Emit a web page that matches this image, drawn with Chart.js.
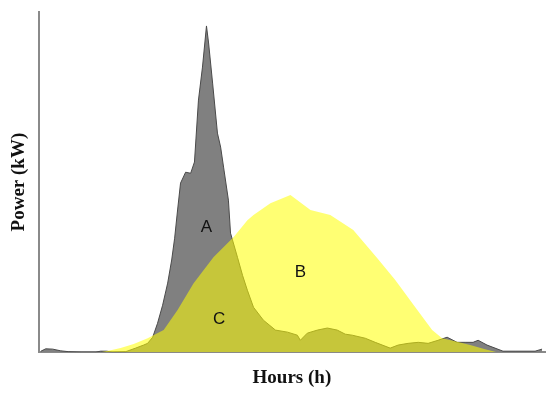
<!DOCTYPE html>
<html>
<head>
<meta charset="utf-8">
<script src="https://cdn.jsdelivr.net/npm/chart.js@4/dist/chart.umd.min.js"></script>
<style>
  html, body { margin: 0; padding: 0; background: #fff; }
  #wrap { width: 550px; height: 394px; }
</style>
</head>
<body>
<div id="wrap"><canvas id="chart"></canvas></div>
<script>
// curve A (grey) - hours / power
const hoursA = [0.1, 0.33, 0.66, 1.04, 1.42, 2.0, 2.7, 2.93, 3.22, 3.5,
  4.12, 4.59, 4.97, 5.16, 5.4, 5.63, 5.87, 6.11, 6.3, 6.44,
  6.58, 6.72, 6.96, 7.2, 7.38, 7.57, 7.76, 7.95, 8.05, 8.24,
  8.47, 8.62, 8.76, 8.99, 9.09, 9.42, 9.66, 9.89, 10.18, 10.65,
  11.22, 11.79, 12.26, 12.4, 12.73, 13.21, 13.68, 14.15, 14.53, 14.86,
  15.48, 15.95, 16.66, 17.04, 17.51, 17.99, 18.46, 18.93, 19.36, 19.83,
  20.21, 20.59, 20.83, 21.25, 21.63, 22.01, 22.58, 23.53, 23.86];
const powerA = [0.3, 1.0, 0.9, 0.4, 0.15, 0, 0, 0.3, 0.3, 0,
  0.15, 1.2, 2.1, 2.6, 4.4, 8.5, 13.8, 20.3, 27.1, 33.5,
  41.8, 49.7, 52.9, 52.6, 55.9, 74.1, 83.8, 95.9, 90.9, 79.1,
  64.4, 60.3, 54.4, 44.7, 35.0, 27.9, 22.6, 18.2, 13.2, 9.4,
  6.5, 5.9, 5.0, 3.5, 5.6, 6.5, 7.1, 6.5, 5.3, 5.0,
  4.1, 2.9, 1.2, 2.1, 2.6, 2.9, 2.6, 3.5, 4.4, 2.9,
  2.9, 2.9, 3.5, 2.1, 1.2, 0.3, 0.3, 0.3, 0.9];

// curve B (yellow)
const hoursB = [2.93, 3.41, 3.88, 4.5, 5.16, 5.92, 6.58, 7.34, 8.28, 9.23,
  9.89, 10.18, 10.98, 11.93, 12.88, 13.82, 14.91, 16.05, 16.9, 17.85,
  18.65, 19.12, 19.74, 20.45, 21.16, 21.73];
const powerB = [0, 0.6, 1.2, 2.4, 4.1, 6.5, 12.4, 20.3, 27.9, 33.8,
  38.8, 40.3, 43.8, 46.2, 41.8, 40.3, 35.9, 27.6, 21.2, 13.2,
  6.5, 4.1, 3.2, 2.1, 0.9, 0];

const regionLabels = ['A', 'B', 'C'];

const toPoints = (xs, ys) => xs.map((x, i) => ({ x: x, y: ys[i] }));

// letters placed inside the areas
const areaLabels = {
  id: 'areaLabels',
  afterDatasetsDraw(chart) {
    const { ctx, scales: { x, y } } = chart;
    const spots = [[7.95, 36.8], [12.4, 23.5], [8.55, 9.8]];
    ctx.save();
    ctx.font = '17px "Liberation Sans", Arial, sans-serif';
    ctx.fillStyle = '#111';
    ctx.textAlign = 'center';
    ctx.textBaseline = 'middle';
    regionLabels.forEach((t, i) => {
      ctx.fillText(t, x.getPixelForValue(spots[i][0]), y.getPixelForValue(spots[i][1]));
    });
    ctx.restore();
  }
};

new Chart(document.getElementById('chart'), {
  type: 'line',
  data: {
    datasets: [
      { label: 'B', data: toPoints(hoursB, powerB), backgroundColor: 'rgba(255,255,0,0.55)',
        borderWidth: 0, pointRadius: 0, tension: 0, fill: 'origin' },
      { label: 'A', data: toPoints(hoursA, powerA), backgroundColor: '#808080', borderColor: '#4a4a4a',
        borderWidth: 1, pointRadius: 0, tension: 0, fill: 'origin' }
    ]
  },
  options: {
    responsive: true,
    maintainAspectRatio: false,
    animation: false,
    layout: { padding: { top: 12, right: 5, left: 4, bottom: 0 } },
    plugins: { legend: { display: false }, tooltip: { enabled: false } },
    scales: {
      x: {
        type: 'linear', min: 0, max: 24,
        grid: { display: false },
        ticks: { display: false },
        border: { color: '#8a8a8a', width: 2 },
        title: { display: true, text: 'Hours (h)', color: '#111',
          font: { family: '"Liberation Serif", "Times New Roman", serif', size: 19, weight: 'bold' },
          padding: { top: 6, bottom: 5 } }
      },
      y: {
        min: 0, max: 100,
        grid: { display: false },
        ticks: { display: false },
        border: { color: '#8a8a8a', width: 2 },
        title: { display: true, text: 'Power (kW)', color: '#111',
          font: { family: '"Liberation Serif", "Times New Roman", serif', size: 19, weight: 'bold' },
          padding: { top: 4, bottom: 0 } }
      }
    }
  },
  plugins: [areaLabels]
});
</script>
</body>
</html>
